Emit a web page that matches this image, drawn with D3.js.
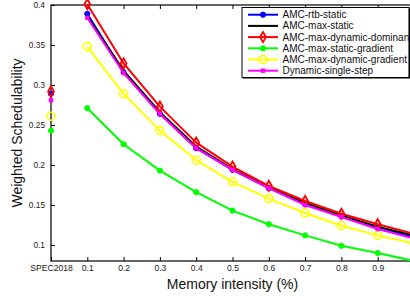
<!DOCTYPE html>
<html>
<head>
<meta charset="utf-8">
<script src="https://cdn.jsdelivr.net/npm/d3@7"></script>
<style>
  body { margin: 0; background: #fff; }
  svg { display: block; font-family: "Liberation Sans", Arial, sans-serif; }
</style>
</head>
<body>
<div id="chart"></div>
<script>
const width = 410
const height = 299
const margin = ({top: 5, right: -4, bottom: 38, left: 51})

// memory intensity values (x), SPEC2018 sits at 0
const intensity = [0.1, 0.2, 0.3, 0.4, 0.5, 0.6, 0.7, 0.8, 0.9, 1.0]
const xTicks = [0, 0.1, 0.2, 0.3, 0.4, 0.5, 0.6, 0.7, 0.8, 0.9]
const xTickLabels = ["SPEC2018", "0.1", "0.2", "0.3", "0.4", "0.5", "0.6", "0.7", "0.8", "0.9"]
const yTicks = [0.1, 0.15, 0.2, 0.25, 0.3, 0.35, 0.4]

const seriesNames = ["AMC-rtb-static", "AMC-max-static", "AMC-max-dynamic-dominant",
  "AMC-max-static-gradient", "AMC-max-dynamic-gradient", "Dynamic-single-step"]
const seriesColors = ["#0000ff", "#000000", "#ff0000", "#00ff00", "#ffff00", "#ff00ff"]
const seriesMarkers = ["dot", "none", "diamond", "dot", "circle", "square"]

// SPEC2018 benchmark value per series
const specValues = [0.289, 0.289, 0.292, 0.243, 0.261, 0.281]

const rtbStatic      = [0.389, 0.316, 0.264, 0.221, 0.194, 0.171, 0.151, 0.136, 0.122, 0.110]
const maxStatic      = [0.386, 0.318, 0.266, 0.223, 0.195, 0.172, 0.153, 0.137, 0.123, 0.112]
const maxDynDominant = [0.401, 0.327, 0.273, 0.228, 0.198, 0.174, 0.155, 0.139, 0.126, 0.114]
const maxStaticGrad  = [0.271, 0.226, 0.193, 0.166, 0.143, 0.126, 0.112, 0.099, 0.090, 0.080]
const maxDynGrad     = [0.348, 0.289, 0.243, 0.206, 0.179, 0.158, 0.140, 0.124, 0.112, 0.102]
const singleStep     = [0.384, 0.315, 0.264, 0.221, 0.194, 0.171, 0.150, 0.135, 0.120, 0.108]

const seriesValues = [rtbStatic, maxStatic, maxDynDominant, maxStaticGrad, maxDynGrad, singleStep]

const series = seriesNames.map((name, i) => ({
  name,
  color: seriesColors[i],
  marker: seriesMarkers[i],
  spec: specValues[i],
  values: intensity.map((x, j) => ({x, y: seriesValues[i][j]}))
}))

const x = d3.scaleLinear()
  .domain([0, 1.0])
  .range([margin.left, width - margin.right])

const y = d3.scaleLinear()
  .domain([0.08, 0.4])
  .range([height - margin.bottom, margin.top])

const svg = d3.select("#chart").append("svg")
  .attr("width", width)
  .attr("height", height)
  .attr("viewBox", [0, 0, width, height])

const x0 = x.range()[0], x1 = x.range()[1]
const y0 = y.range()[0], y1 = y.range()[1]

// axes box
svg.append("rect")
  .attr("x", x0).attr("y", y1)
  .attr("width", x1 - x0).attr("height", y0 - y1)
  .attr("fill", "none").attr("stroke", "#000").attr("stroke-width", 1.2)

const xAxis = g => g
  .attr("transform", `translate(0,${y0})`)
  .call(d3.axisBottom(x).tickValues(xTicks).tickSizeInner(-4).tickSizeOuter(0).tickPadding(4)
    .tickFormat((d, i) => xTickLabels[i]))
  .call(g => g.select(".domain").remove())
  .call(g => g.selectAll("text").attr("font-size", 8.6).attr("fill", "#222")
    .attr("font-family", "Liberation Sans, Arial, sans-serif"))

const xAxisTop = g => g
  .attr("transform", `translate(0,${y1})`)
  .call(d3.axisTop(x).tickValues(xTicks.slice(1)).tickSizeInner(-4).tickSizeOuter(0).tickFormat(""))
  .call(g => g.select(".domain").remove())

const yAxis = g => g
  .attr("transform", `translate(${x0},0)`)
  .call(d3.axisLeft(y).tickValues(yTicks).tickSizeInner(-4).tickSizeOuter(0).tickPadding(6)
    .tickFormat(d3.format("")))
  .call(g => g.select(".domain").remove())
  .call(g => g.selectAll("text").attr("font-size", 8.3).attr("fill", "#222")
    .attr("font-family", "Liberation Sans, Arial, sans-serif"))

svg.append("g").call(xAxis)
svg.append("g").call(xAxisTop)
svg.append("g").call(yAxis)

svg.append("text")
  .attr("x", (x0 + x1) / 2)
  .attr("y", 289)
  .attr("text-anchor", "middle")
  .attr("font-size", 14)
  .attr("fill", "#111")
  .text("Memory intensity (%)")

svg.append("text")
  .attr("transform", `translate(22,${(y0 + y1) / 2}) rotate(-90)`)
  .attr("text-anchor", "middle")
  .attr("font-size", 14)
  .attr("fill", "#111")
  .text("Weighted Schedulability")

const plot = svg.append("g")

const line = d3.line()
  .x(d => x(d.x))
  .y(d => y(d.y))

function drawMarker(g, s, px, py) {
  if (s.marker === "dot") {
    g.append("circle").attr("cx", px).attr("cy", py).attr("r", 2.6)
      .attr("fill", s.color).attr("stroke", s.color)
  } else if (s.marker === "circle") {
    g.append("circle").attr("cx", px).attr("cy", py).attr("r", 4)
      .attr("fill", "none").attr("stroke", s.color).attr("stroke-width", 1.6)
  } else if (s.marker === "diamond") {
    g.append("path")
      .attr("d", d3.symbol(d3.symbolDiamond, 30)())
      .attr("transform", `translate(${px},${py})`)
      .attr("fill", "none").attr("stroke", s.color).attr("stroke-width", 1.8)
  } else if (s.marker === "square") {
    g.append("rect").attr("x", px - 2.2).attr("y", py - 2.2).attr("width", 4.4).attr("height", 4.4)
      .attr("fill", s.color)
  }
}

series.forEach(s => {
  const g = plot.append("g")
  g.append("path")
    .datum(s.values)
    .attr("fill", "none")
    .attr("stroke", s.color)
    .attr("stroke-width", 2)
    .attr("stroke-linejoin", "round")
    .attr("d", line)
  s.values.forEach(d => drawMarker(g, s, x(d.x), y(d.y)))
  drawMarker(g, s, x(0), y(s.spec))
})

// legend
const lx = 242, ly = 7.5, lw = 167, lh = 70
const legend = svg.append("g")
legend.append("rect")
  .attr("x", lx).attr("y", ly).attr("width", lw).attr("height", lh)
  .attr("fill", "#fff").attr("stroke", "#000").attr("stroke-width", 1)
legend.append("path")
  .attr("d", `M${lx + 1},${ly + lh + 0.5}H${lx + lw + 0.5}V${ly + 1}`)
  .attr("fill", "none").attr("stroke", "#000").attr("stroke-width", 1.2)

series.forEach((s, i) => {
  const yy = 14.7 + i * 11.2
  legend.append("line")
    .attr("x1", 248).attr("x2", 278).attr("y1", yy).attr("y2", yy)
    .attr("stroke", s.color).attr("stroke-width", 2)
  drawMarker(legend, s, 263, yy)
  legend.append("text")
    .attr("x", 282.5).attr("y", yy)
    .attr("dy", "0.35em")
    .attr("font-size", 10)
    .attr("fill", "#111")
    .text(s.name)
})
</script>
</body>
</html>
